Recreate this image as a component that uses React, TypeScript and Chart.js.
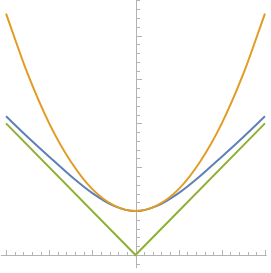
import React, { useEffect, useRef } from "react";
import { Chart, registerables } from "chart.js";

Chart.register(...registerables);

// Sample positions along x
const xs = [-3, -2.5, -2, -1.5, -1, -0.5, 0, 0.5, 1, 1.5, 2, 2.5, 3];
// Blue curve
const blueValues = [3.16, 2.69, 2.24, 1.8, 1.41, 1.12, 1.0, 1.12, 1.41, 1.8, 2.24, 2.69, 3.16];
// Orange curve
const orangeValues = [5.5, 4.13, 3.0, 2.13, 1.5, 1.13, 1.0, 1.13, 1.5, 2.13, 3.0, 4.13, 5.5];
// Green V-shaped line
const greenXs = [-3, 0, 3];
const greenValues = [3, 0, 3];

const xRange = [-3.14, 3.14];
const yRange = [-0.41, 5.81];

const BLUE = "#5E81B5";
const ORANGE = "#E19C24";
const GREEN = "#8FB032";
const AXIS = "#b3b3b3";

const axesPlugin = {
  id: "mmaAxes",
  beforeDatasetsDraw(chart: any) {
    const ctx = chart.ctx;
    const xs = chart.scales.x;
    const ys = chart.scales.y;
    const x0 = xs.getPixelForValue(0);
    const y0 = ys.getPixelForValue(0);
    ctx.save();
    ctx.strokeStyle = AXIS;
    ctx.lineWidth = 1;
    // x axis
    ctx.beginPath();
    ctx.moveTo(xs.getPixelForValue(-3.12), Math.round(y0) + 0.5);
    ctx.lineTo(xs.getPixelForValue(3.04), Math.round(y0) + 0.5);
    ctx.stroke();
    // y axis
    ctx.beginPath();
    ctx.moveTo(Math.round(x0) + 0.5, ys.getPixelForValue(5.85));
    ctx.lineTo(Math.round(x0) + 0.5, ys.getPixelForValue(-0.3));
    ctx.stroke();
    // x ticks
    for (let i = -15; i <= 15; i++) {
      if (i === 0) continue;
      const v = i * 0.2;
      const major = i % 5 === 0;
      const px = Math.round(xs.getPixelForValue(v)) + 0.5;
      ctx.beginPath();
      ctx.moveTo(px, Math.round(y0));
      ctx.lineTo(px, Math.round(y0) - (major ? 5 : 3));
      ctx.stroke();
    }
    // y ticks
    for (let i = -1; i <= 29; i++) {
      if (i === 0) continue;
      const v = i * 0.2;
      const major = i % 5 === 0;
      const py = Math.round(ys.getPixelForValue(v)) + 0.5;
      ctx.beginPath();
      ctx.moveTo(Math.round(x0) + 1, py);
      ctx.lineTo(Math.round(x0) + 1 + (major ? 5 : 3), py);
      ctx.stroke();
    }
    ctx.restore();
  },
};

export default function App() {
  const ref = useRef<HTMLCanvasElement>(null);
  useEffect(() => {
    document.body.style.margin = "0";
    const chart = new Chart(ref.current!, {
      type: "scatter",
      data: {
        datasets: [
          {
            data: xs.map((x, i) => ({ x, y: blueValues[i] })),
            borderColor: BLUE,
            borderWidth: 2,
            showLine: true,
            pointRadius: 0,
            cubicInterpolationMode: "monotone",
            order: 3,
          },
          {
            data: xs.map((x, i) => ({ x, y: orangeValues[i] })),
            borderColor: ORANGE,
            borderWidth: 2,
            showLine: true,
            pointRadius: 0,
            cubicInterpolationMode: "monotone",
            order: 2,
          },
          {
            data: greenXs.map((x, i) => ({ x, y: greenValues[i] })),
            borderColor: GREEN,
            borderWidth: 2,
            showLine: true,
            pointRadius: 0,
            order: 1,
          },
        ],
      } as any,
      options: {
        responsive: false,
        animation: false,
        devicePixelRatio: 1,
        layout: { padding: 0 },
        plugins: { legend: { display: false }, tooltip: { enabled: false } },
        scales: {
          x: { type: "linear", min: xRange[0], max: xRange[1], display: false },
          y: { type: "linear", min: yRange[0], max: yRange[1], display: false },
        },
      } as any,
      plugins: [axesPlugin],
    });
    return () => chart.destroy();
  }, []);
  return (
    <canvas
      ref={ref}
      width={271}
      height={273}
      style={{ position: "fixed", left: 0, top: 0, width: 271, height: 273 }}
    />
  );
}
